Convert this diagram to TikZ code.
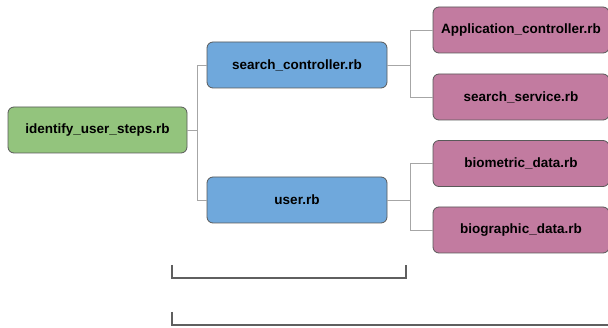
\documentclass[tikz,border=0pt]{standalone}
\usepackage{fontspec}
\setmainfont{Liberation Sans}
\definecolor{gfill}{HTML}{93C47D}
\definecolor{bfill}{HTML}{6FA8DC}
\definecolor{pfill}{HTML}{C27BA0}
\definecolor{bord}{HTML}{595959}
\definecolor{conn}{HTML}{A6A6A6}
\definecolor{brk}{HTML}{5F5F5F}
\begin{document}
\begin{tikzpicture}[x=1pt,y=-1pt,
  box/.style={draw=bord,line width=0.8pt,rounded corners=6pt,minimum height=46pt,inner sep=0pt,font=\bfseries\fontsize{13.5}{15}\selectfont,text=black},
  gbox/.style={box,fill=gfill,minimum width=179pt},
  bbox/.style={box,fill=bfill,minimum width=180pt},
  pbox/.style={box,fill=pfill,minimum width=176pt},
  link/.style={draw=conn,line width=0.8pt},
  bracket/.style={draw=brk,line width=2.5pt,line cap=butt,line join=miter}]
\useasboundingbox (0,0) rectangle (608,328);
\clip (0,0) rectangle (608,328);
\node[gbox] (g) at (97.5,130) {identify\_user\_steps.rb};
\node[bbox] (sc) at (297,65) {search\_controller.rb};
\node[bbox] (u) at (297,200) {user.rb};
\node[pbox] (ac) at (521,30) {Application\_controller.rb};
\node[pbox] (ss) at (521,97) {search\_service.rb};
\node[pbox] (bm) at (521,163.5) {biometric\_data.rb};
\node[pbox] (bg) at (521,230) {biographic\_data.rb};
\coordinate (j1) at (197,130);
\coordinate (j2) at (410,65);
\coordinate (j3) at (410,200);
\draw[link] (g.east) -- (j1);
\draw[link] (j1) |- (sc.west);
\draw[link] (j1) |- (u.west);
\draw[link] (sc.east) -- (j2);
\draw[link] (j2) |- (ac.west);
\draw[link] (j2) |- (ss.west);
\draw[link] (u.east) -- (j3);
\draw[link] (j3) |- (bm.west);
\draw[link] (j3) |- (bg.west);
\coordinate (b1a) at (172,265);
\coordinate (b1b) at (406,265);
\draw[bracket] (b1a) -- ++(0,13) -| (b1b);
\coordinate (b2a) at (172,312);
\coordinate (b2b) at (612,325);
\draw[bracket] (b2a) |- (b2b);
\end{tikzpicture}
\end{document}
